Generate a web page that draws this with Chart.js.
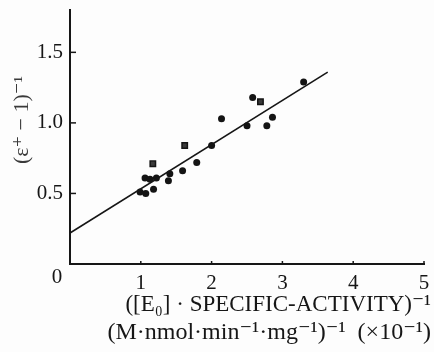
<!DOCTYPE html>
<html>
<head>
<meta charset="utf-8">
<script src="https://cdn.jsdelivr.net/npm/chart.js@4/dist/chart.umd.min.js"></script>
<style>
  html, body { margin: 0; padding: 0; background: #fdfdfd; }
  #wrap { width: 434px; height: 352px; position: relative; }
</style>
</head>
<body>
<div id="wrap"><canvas id="chart" width="434" height="352"></canvas></div>
<script>
// values
const circleX = [0.99, 1.07, 1.18, 1.06, 1.13, 1.22, 1.39, 1.41, 1.59, 1.79, 2.00, 2.14, 2.50, 2.58, 2.78, 2.86, 3.30];
const circleY = [0.51, 0.50, 0.53, 0.61, 0.60, 0.61, 0.59, 0.64, 0.66, 0.72, 0.84, 1.03, 0.98, 1.18, 0.98, 1.04, 1.29];
const squareX = [1.17, 1.62, 2.69];
const squareY = [0.71, 0.84, 1.15];
const fitX = [0, 3.64];
const fitY = [0.22, 1.36];
const xTicks = [1, 2, 3, 4, 5];
const yTicks = [0.5, 1.0, 1.5];

const ink = '#161616';
const serif = "'Liberation Serif', 'DejaVu Serif', serif";

function pts(xs, ys) {
    return xs.map(function (x, i) { return { x: x, y: ys[i] }; });
}

// hand-drawn extras: inward ticks, the corner "0" and the axis titles
const decorations = {
    id: 'decorations',
    afterDraw: function (chart) {
        const ctx = chart.ctx;
        const xs = chart.scales.x;
        const ys = chart.scales.y;
        const x0 = xs.getPixelForValue(0);
        const y0 = ys.getPixelForValue(0);
        ctx.save();
        ctx.strokeStyle = ink;
        ctx.lineWidth = 1.5;
        yTicks.forEach(function (v) {
            const py = ys.getPixelForValue(v);
            ctx.beginPath(); ctx.moveTo(x0, py); ctx.lineTo(x0 + 6, py); ctx.stroke();
        });
        xTicks.forEach(function (v) {
            const px = xs.getPixelForValue(v);
            ctx.beginPath(); ctx.moveTo(px, y0); ctx.lineTo(px, y0 - 3); ctx.stroke();
        });

        ctx.fillStyle = ink;
        ctx.font = '21px ' + serif;
        ctx.textAlign = 'center';
        ctx.textBaseline = 'middle';
        ctx.fillText('0', x0 - 13, y0 + 13);

        ctx.textAlign = 'right';
        ctx.font = '23px ' + serif;
        ctx.fillText('([E\u2080] \u00b7 SPECIFIC-ACTIVITY)\u207b\u00b9', 431, 305);
        ctx.font = '24px ' + serif;
        ctx.fillText('(M\u00b7nmol\u00b7min\u207b\u00b9\u00b7mg\u207b\u00b9)\u207b\u00b9  (\u00d710\u207b\u00b9)', 431, 333);

        ctx.translate(22, 120);
        ctx.rotate(-Math.PI / 2);
        ctx.textAlign = 'center';
        ctx.fillStyle = '#3a3a3a';
        ctx.font = '22px ' + serif;
        ctx.fillText('(\u03b5\u207a \u2212 1)\u207b\u00b9', 0, 0);
        ctx.restore();
    }
};

new Chart(document.getElementById('chart'), {
    type: 'scatter',
    data: {
        datasets: [
            {
                type: 'line',
                data: pts(fitX, fitY),
                borderColor: ink,
                borderWidth: 1.6,
                pointRadius: 0,
                fill: false
            },
            {
                data: pts(circleX, circleY),
                pointStyle: 'circle',
                pointRadius: 3.5,
                backgroundColor: '#141414',
                borderColor: '#141414',
                borderWidth: 0
            },
            {
                data: pts(squareX, squareY),
                pointStyle: 'rect',
                pointRadius: 3.8,
                backgroundColor: '#3a3a3a',
                borderColor: '#141414',
                borderWidth: 1.5
            }
        ]
    },
    options: {
        responsive: false,
        animation: false,
        devicePixelRatio: 1,
        layout: { padding: { left: 0, right: 10, top: 10, bottom: 0 } },
        plugins: { legend: { display: false }, tooltip: { enabled: false } },
        scales: {
            x: {
                type: 'linear',
                min: 0,
                max: 5,
                grid: { display: false, drawTicks: false, tickLength: 0 },
                border: { color: ink, width: 2 },
                afterFit: function (s) { s.height = 88; s.paddingLeft = 0; s.paddingRight = 0; },
                afterBuildTicks: function (s) { s.ticks = xTicks.map(function (v) { return { value: v }; }); },
                ticks: { color: ink, padding: 7, font: { family: serif, size: 21 } }
            },
            y: {
                min: 0,
                max: 1.8,
                grid: { display: false, drawTicks: false, tickLength: 0 },
                border: { color: ink, width: 2 },
                afterFit: function (s) { s.width = 70; s.paddingTop = 0; s.paddingBottom = 0; },
                afterBuildTicks: function (s) { s.ticks = yTicks.map(function (v) { return { value: v }; }); },
                ticks: {
                    color: ink,
                    padding: 7,
                    font: { family: serif, size: 21 },
                    callback: function (v) { return v.toFixed(1); }
                }
            }
        }
    },
    plugins: [decorations]
});
</script>
</body>
</html>
